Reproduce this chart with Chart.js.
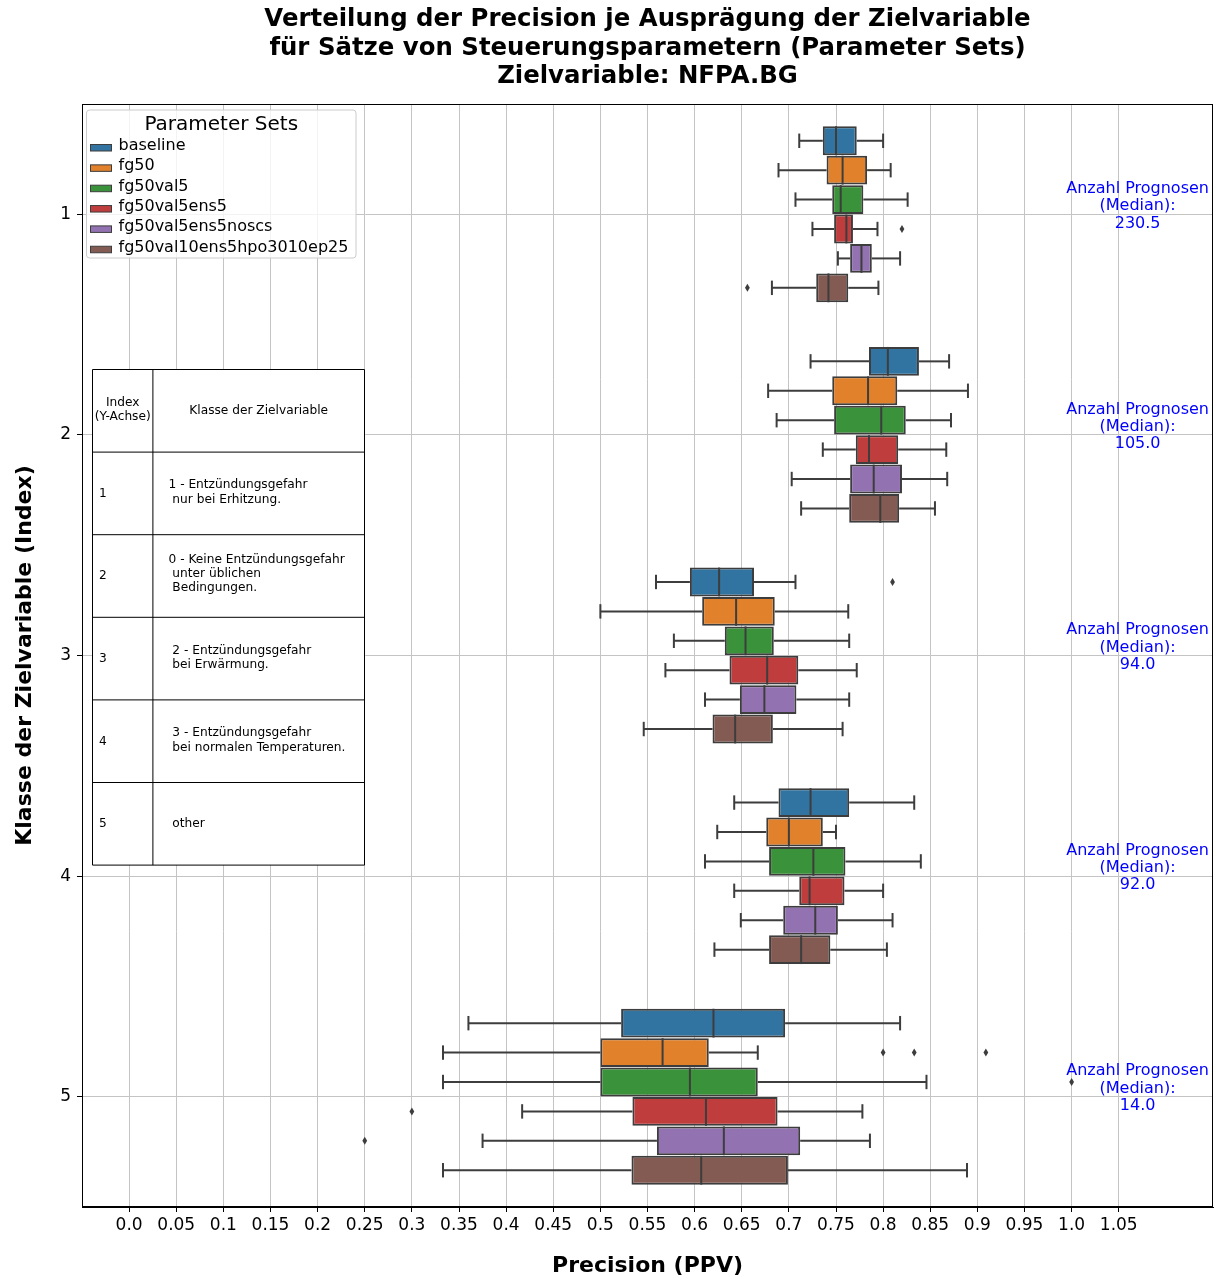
<!DOCTYPE html>
<html>
<head>
<meta charset="utf-8">
<title>Verteilung der Precision je Ausprägung der Zielvariable</title>
<script src="https://cdn.jsdelivr.net/npm/chart.js@4.4.1/dist/chart.umd.min.js"></script>
<style>
  html, body { margin: 0; padding: 0; background: #ffffff; }
  canvas { display: block; }
</style>
</head>
<body>
<canvas id="chart" width="1222" height="1279"></canvas>
<script>
// ---- data ---------------------------------------------------------------
const categories = ['1', '2', '3', '4', '5'];
const seriesNames = ['baseline', 'fg50', 'fg50val5', 'fg50val5ens5', 'fg50val5ens5noscs', 'fg50val10ens5hpo3010ep25'];
const seriesColors = ['#3274a1', '#e1812c', '#3a923a', '#c03d3e', '#9372b2', '#845b53'];

// box statistics: one row per parameter set, one column per class index
const whiskerLow = [
  [0.711, 0.723, 0.559, 0.642, 0.360],
  [0.689, 0.678, 0.500, 0.624, 0.333],
  [0.707, 0.687, 0.578, 0.611, 0.333],
  [0.725, 0.736, 0.569, 0.642, 0.417],
  [0.752, 0.703, 0.611, 0.649, 0.375],
  [0.682, 0.713, 0.546, 0.621, 0.333]
];
const quartile1 = [
  [0.736, 0.785, 0.595, 0.689, 0.522],
  [0.740, 0.746, 0.608, 0.676, 0.500],
  [0.746, 0.748, 0.632, 0.679, 0.500],
  [0.748, 0.771, 0.637, 0.711, 0.534],
  [0.765, 0.765, 0.648, 0.694, 0.560],
  [0.729, 0.764, 0.619, 0.679, 0.533]
];
const medians = [
  [0.750, 0.805, 0.626, 0.723, 0.620],
  [0.757, 0.784, 0.644, 0.700, 0.566],
  [0.755, 0.798, 0.654, 0.726, 0.595],
  [0.761, 0.785, 0.677, 0.722, 0.612],
  [0.777, 0.790, 0.674, 0.728, 0.631],
  [0.742, 0.797, 0.643, 0.713, 0.607]
];
const quartile3 = [
  [0.772, 0.838, 0.663, 0.764, 0.696],
  [0.783, 0.815, 0.685, 0.736, 0.615],
  [0.779, 0.824, 0.684, 0.760, 0.667],
  [0.768, 0.816, 0.710, 0.759, 0.688],
  [0.788, 0.820, 0.708, 0.752, 0.712],
  [0.763, 0.817, 0.683, 0.744, 0.699]
];
const whiskerHigh = [
  [0.800, 0.870, 0.707, 0.833, 0.818],
  [0.808, 0.890, 0.763, 0.750, 0.667],
  [0.826, 0.872, 0.764, 0.840, 0.846],
  [0.794, 0.867, 0.772, 0.800, 0.778],
  [0.818, 0.868, 0.764, 0.810, 0.786],
  [0.795, 0.855, 0.757, 0.804, 0.889]
];
const outliers = [
  [[], [], [0.810], [], []],
  [[], [], [], [], [0.800, 0.833, 0.909]],
  [[], [], [], [], [1.000]],
  [[0.820], [], [], [], [0.300]],
  [[], [], [], [], [0.250]],
  [[0.656], [], [], [], []]
];
const medianForecastCounts = [230.5, 105.0, 94.0, 92.0, 14.0];

const xTickLabels = ['0.0', '0.05', '0.1', '0.15', '0.2', '0.25', '0.3', '0.35', '0.4', '0.45', '0.5',
  '0.55', '0.6', '0.65', '0.7', '0.75', '0.8', '0.85', '0.9', '0.95', '1.0', '1.05'];

const titleLines = [
  'Verteilung der Precision je Ausprägung der Zielvariable',
  'für Sätze von Steuerungsparametern (Parameter Sets)',
  'Zielvariable: NFPA.BG'
];
const legendTitle = 'Parameter Sets';
const annotationLines = ['Anzahl Prognosen', '(Median):'];

const tableHeader = [['Index', '(Y-Achse)'], ['Klasse der Zielvariable']];
const tableIndex = ['1', '2', '3', '4', '5'];
const tableClasses = [
  ['1 - Entzündungsgefahr', ' nur bei Erhitzung.'],
  ['0 - Keine Entzündungsgefahr', ' unter üblichen', ' Bedingungen.'],
  [' 2 - Entzündungsgefahr', ' bei Erwärmung.'],
  [' 3 - Entzündungsgefahr', ' bei normalen Temperaturen.'],
  [' other']
];

// ---- styling ------------------------------------------------------------
const FONT = "'DejaVu Sans', 'Liberation Sans', sans-serif";
const lineGray = '#3d3d3d';
const gridColor = '#c4c4c4';
Chart.defaults.font.family = FONT;
Chart.defaults.color = '#000000';

// whiskers, caps, medians and fliers on top of the quartile bars
const boxWhiskerPlugin = {
  id: 'boxWhiskers',
  afterDatasetsDraw(chart) {
    const ctx = chart.ctx;
    const xs = chart.scales.x;
    ctx.save();
    ctx.strokeStyle = lineGray;
    ctx.fillStyle = lineGray;
    ctx.lineWidth = 2;
    ctx.lineCap = 'butt';
    const seg = (x1, y1, x2, y2) => { ctx.beginPath(); ctx.moveTo(x1, y1); ctx.lineTo(x2, y2); ctx.stroke(); };
    chart.data.datasets.forEach((ds, s) => {
      const meta = chart.getDatasetMeta(s);
      meta.data.forEach((bar, c) => {
        const { y, height } = bar.getProps(['y', 'height'], true);
        const cap = height * 0.25;
        const pLo = xs.getPixelForValue(whiskerLow[s][c]);
        const pQ1 = xs.getPixelForValue(quartile1[s][c]);
        const pMed = xs.getPixelForValue(medians[s][c]);
        const pQ3 = xs.getPixelForValue(quartile3[s][c]);
        const pHi = xs.getPixelForValue(whiskerHigh[s][c]);
        seg(pLo, y, pQ1, y);
        seg(pQ3, y, pHi, y);
        seg(pLo, y - cap, pLo, y + cap);
        seg(pHi, y - cap, pHi, y + cap);
        seg(pMed, y - height / 2, pMed, y + height / 2);
        outliers[s][c].forEach(v => {
          const px = xs.getPixelForValue(v);
          ctx.beginPath();
          ctx.moveTo(px, y - 4);
          ctx.lineTo(px + 2.4, y);
          ctx.lineTo(px, y + 4);
          ctx.lineTo(px - 2.4, y);
          ctx.closePath();
          ctx.fill();
        });
      });
    });
    ctx.restore();
  }
};

// frame, title, legend, class table and count annotations
const decorPlugin = {
  id: 'decor',
  afterDraw(chart) {
    const ctx = chart.ctx;
    const ca = chart.chartArea;
    const xs = chart.scales.x;
    const ys = chart.scales.y;
    ctx.save();

    // axes frame
    ctx.strokeStyle = '#000000';
    ctx.lineWidth = 1;
    ctx.strokeRect(ca.left + 0.5, ca.top + 0.5, ca.right - ca.left - 1, ca.bottom - ca.top - 1);

    // title
    ctx.fillStyle = '#000000';
    ctx.textAlign = 'center';
    ctx.textBaseline = 'alphabetic';
    ctx.font = 'bold 24.4px ' + FONT;
    const cx = (ca.left + ca.right) / 2;
    titleLines.forEach((t, i) => ctx.fillText(t, cx, 25.8 + i * 28.8));

    // per-class annotation with the median number of forecasts
    ctx.fillStyle = '#0000ff';
    ctx.font = '16px ' + FONT;
    categories.forEach((cat, c) => {
      const px = xs.getPixelForValue(1.07);
      const py = ys.getPixelForValue(c);
      const lines = annotationLines.concat([medianForecastCounts[c].toFixed(1)]);
      lines.forEach((t, i) => ctx.fillText(t, px, py - 21.3 + i * 17.3));
    });

    // legend
    const lx = ca.left + 4.5, ly = ca.top + 6, lw = 269.5, lh = 148;
    ctx.beginPath();
    ctx.roundRect(lx, ly, lw, lh, 3);
    ctx.fillStyle = 'rgba(255,255,255,0.8)';
    ctx.fill();
    ctx.strokeStyle = '#cccccc';
    ctx.lineWidth = 1;
    ctx.stroke();
    ctx.fillStyle = '#000000';
    ctx.textAlign = 'center';
    ctx.font = '20px ' + FONT;
    ctx.fillText(legendTitle, lx + lw / 2, ly + 19.5);
    ctx.textAlign = 'left';
    ctx.font = '16px ' + FONT;
    chart.data.datasets.forEach((ds, s) => {
      const base = ly + 40 + s * 20.35;
      ctx.fillStyle = ds.backgroundColor;
      ctx.fillRect(lx + 4, base - 5.5, 21, 6.5);
      ctx.strokeStyle = lineGray;
      ctx.lineWidth = 1;
      ctx.strokeRect(lx + 4, base - 5.5, 21, 6.5);
      ctx.fillStyle = '#000000';
      ctx.fillText(ds.label, lx + 32, base);
    });

    // class table
    const tx = ca.left + 10.5, ty = ca.top + 265.5;
    const c1 = 60.4, c2 = 211.6, rh = 82.6;
    const rows = 1 + tableIndex.length;
    ctx.fillStyle = '#ffffff';
    ctx.fillRect(tx, ty, c1 + c2, rh * rows);
    ctx.strokeStyle = '#000000';
    ctx.lineWidth = 1;
    for (let r = 0; r <= rows; r++) {
      ctx.beginPath(); ctx.moveTo(tx, ty + r * rh); ctx.lineTo(tx + c1 + c2, ty + r * rh); ctx.stroke();
    }
    [0, c1, c1 + c2].forEach(off => {
      ctx.beginPath(); ctx.moveTo(tx + off, ty); ctx.lineTo(tx + off, ty + rows * rh); ctx.stroke();
    });
    ctx.fillStyle = '#000000';
    ctx.font = '12.2px ' + FONT;
    const lineGap = 14.4;
    const drawCell = (lines, x, rowIdx, align) => {
      ctx.textAlign = align;
      const mid = ty + rh * (rowIdx + 0.5) + 3.3 - (lines.length - 1) * 1.2;
      lines.forEach((t, i) => ctx.fillText(t, x, mid + (i - (lines.length - 1) / 2) * lineGap));
    };
    drawCell(tableHeader[0], tx + c1 / 2, 0, 'center');
    drawCell(tableHeader[1], tx + c1 + c2 / 2, 0, 'center');
    tableIndex.forEach((t, r) => drawCell([t], tx + 6.5, r + 1, 'left'));
    tableClasses.forEach((lines, r) => drawCell(lines, tx + 76, r + 1, 'left'));

    ctx.restore();
  }
};

const tickValues = xTickLabels.map(Number);

new Chart(document.getElementById('chart'), {
  type: 'bar',
  data: {
    labels: categories,
    datasets: seriesNames.map((name, s) => ({
      label: name,
      data: categories.map((_, c) => [quartile1[s][c], quartile3[s][c]]),
      backgroundColor: seriesColors[s],
      borderColor: lineGray,
      borderWidth: 2,
      borderSkipped: false,
      categoryPercentage: 0.8,
      barPercentage: 0.98
    }))
  },
  options: {
    indexAxis: 'y',
    responsive: false,
    animation: false,
    events: [],
    layout: { padding: { top: 104, right: 9, bottom: 0, left: 0 } },
    plugins: {
      legend: { display: false },
      tooltip: { enabled: false },
      title: { display: false }
    },
    scales: {
      x: {
        type: 'linear',
        min: -0.05,
        max: 1.15,
        z: 1,
        afterBuildTicks: scale => { scale.ticks = tickValues.map(v => ({ value: v })); },
        afterFit: scale => { scale.height = 72; },
        ticks: {
          autoSkip: false,
          maxRotation: 0,
          padding: 3,
          color: '#000000',
          font: { size: 17 },
          callback: (value, index) => xTickLabels[index]
        },
        grid: { color: gridColor, lineWidth: 1, tickLength: 5, tickColor: '#000000', tickWidth: 1 },
        border: { color: '#000000', width: 1 },
        title: {
          display: true,
          text: 'Precision (PPV)',
          color: '#000000',
          font: { size: 22, weight: 'bold' },
          padding: { top: 0, bottom: 0 }
        }
      },
      y: {
        type: 'category',
        z: 1,
        afterFit: scale => { scale.width = 82; },
        ticks: { color: '#000000', font: { size: 17 }, padding: 6 },
        grid: { offset: false, color: gridColor, lineWidth: 1, tickLength: 5, tickColor: '#000000', tickWidth: 1 },
        border: { color: '#000000', width: 1 },
        title: {
          display: true,
          text: 'Klasse der Zielvariable (Index)',
          color: '#000000',
          font: { size: 22, weight: 'bold' },
          padding: { top: 12, bottom: 0 }
        }
      }
    }
  },
  plugins: [boxWhiskerPlugin, decorPlugin]
});
</script>
</body>
</html>
